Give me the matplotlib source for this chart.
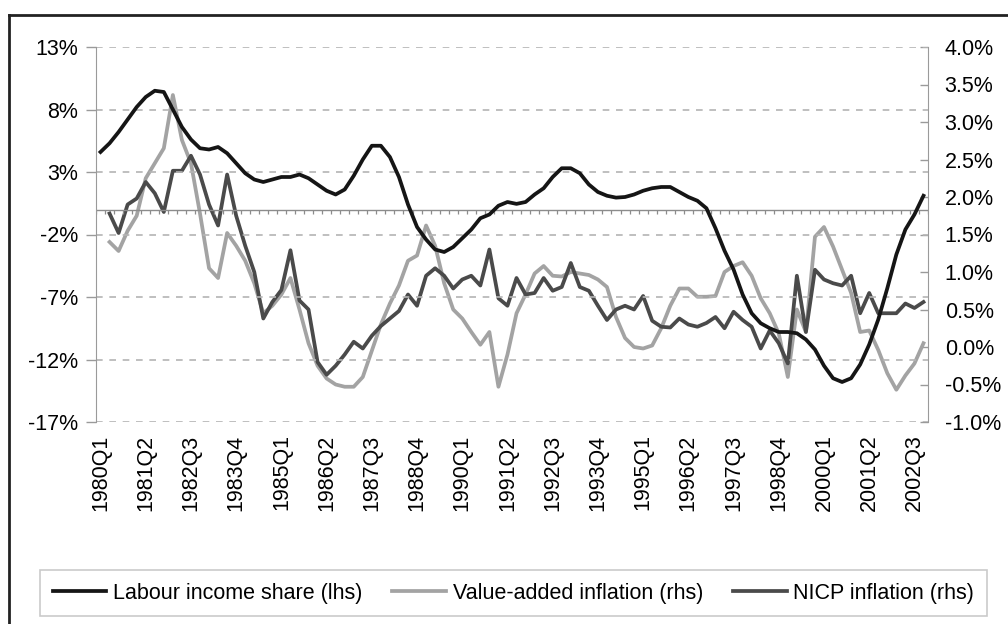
#labour_share_inflation.py

import numpy as np
import matplotlib.pyplot as plt
from matplotlib.lines import Line2D

plt.rcParams['font.family'] = ['Liberation Sans', 'DejaVu Sans']

nan = np.nan

quarters = [f"{1980 + i // 4}Q{i % 4 + 1}" for i in range(92)]

labour_share = [
    4.6, 5.3, 6.2, 7.2, 8.2, 9.0, 9.5, 9.4, 8.0, 6.6,
    5.6, 4.9, 4.8, 5.0, 4.5, 3.7, 2.9, 2.4, 2.2, 2.4,
    2.6, 2.6, 2.8, 2.5, 2.0, 1.5, 1.2, 1.6, 2.7, 4.0,
    5.1, 5.1, 4.2, 2.6, 0.4, -1.4, -2.4, -3.2, -3.4, -3.0,
    -2.3, -1.6, -0.7, -0.4, 0.3, 0.6, 0.45, 0.6, 1.2, 1.7,
    2.6, 3.3, 3.3, 2.9, 2.0, 1.4, 1.1, 0.95, 1.0, 1.2,
    1.5, 1.7, 1.8, 1.8, 1.4, 1.0, 0.7, 0.1, -1.5, -3.3,
    -4.8, -6.8, -8.3, -9.1, -9.5, -9.8, -9.8, -9.9, -10.4, -11.2,
    -12.5, -13.5, -13.8, -13.5, -12.4, -10.8, -8.8, -6.3, -3.6, -1.6,
    -0.4, 1.1]

va_inflation = [
    nan, 1.40, 1.28, 1.55, 1.75, 2.25, 2.45, 2.65, 3.36, 2.76,
    2.45, 1.78, 1.05, 0.92, 1.52, 1.35, 1.15, 0.85, 0.45, 0.55,
    0.7, 0.92, 0.5, 0.05, -0.25, -0.42, -0.5, -0.53, -0.53, -0.4,
    -0.05, 0.3, 0.58, 0.82, 1.15, 1.22, 1.62, 1.35, 0.85, 0.5,
    0.38, 0.2, 0.03, 0.2, -0.53, -0.1, 0.45, 0.7, 0.98, 1.08,
    0.95, 0.94, 1.0, 0.98, 0.96, 0.9, 0.8, 0.4, 0.12, 0.0,
    -0.02, 0.02, 0.25, 0.55, 0.78, 0.78, 0.67, 0.67, 0.68, 1.0,
    1.08, 1.13, 0.95, 0.65, 0.45, 0.18, -0.4, 0.5, 0.2, 1.47,
    1.6, 1.34, 1.03, 0.72, 0.2, 0.22, -0.04, -0.35, -0.57, -0.38,
    -0.22, 0.05]

nicp_inflation = [
    nan, 1.78, 1.52, 1.9, 1.98, 2.2, 2.05, 1.8, 2.35, 2.35,
    2.55, 2.3, 1.9, 1.62, 2.3, 1.75, 1.35, 1.0, 0.38, 0.6,
    0.76, 1.29, 0.62, 0.5, -0.2, -0.37, -0.25, -0.1, 0.07, -0.02,
    0.15, 0.28, 0.38, 0.48, 0.7, 0.55, 0.95, 1.05, 0.95, 0.78,
    0.9, 0.95, 0.82, 1.3, 0.65, 0.55, 0.92, 0.7, 0.72, 0.92,
    0.75, 0.8, 1.12, 0.8, 0.75, 0.55, 0.36, 0.5, 0.55, 0.5,
    0.68, 0.35, 0.27, 0.26, 0.38, 0.3, 0.27, 0.32, 0.4, 0.25,
    0.47, 0.36, 0.27, -0.02, 0.22, 0.05, -0.22, 0.95, 0.2, 1.03,
    0.9, 0.85, 0.82, 0.95, 0.45, 0.72, 0.45, 0.45, 0.45, 0.58,
    0.52, 0.6]

lhs_ticks = [13, 8, 3, -2, -7, -12, -17]
rhs_ticks = [4.0, 3.5, 3.0, 2.5, 2.0, 1.5, 1.0, 0.5, 0.0, -0.5, -1.0]

x = np.arange(len(quarters))

fig = plt.figure(figsize=(10.08, 6.24), dpi=100, facecolor='white')
ax1 = fig.add_axes([96 / 1008, 1 - 422 / 624, 832 / 1008, 375 / 624])
ax2 = ax1.twinx()

ax1.set_xlim(-0.5, len(quarters) - 0.5)
ax1.set_ylim(-17, 13)
ax2.set_ylim(-1, 4)

for t in lhs_ticks:
    ax1.axhline(t, color='#b4b4b4', lw=1.2, ls=(0, (4, 4)), zorder=0)

# zero line with small quarter ticks
ax1.axhline(0, color='#8c8c8c', lw=1.0, zorder=1)
ax1.vlines(np.arange(-0.5, len(quarters)), -0.35, 0, color='#8c8c8c', lw=0.9, zorder=1)

l1, = ax1.plot(x, labour_share, color='#151515', lw=2.7, zorder=5)
l2, = ax2.plot(x, va_inflation, color='#a3a3a3', lw=2.7, zorder=3)
l3, = ax2.plot(x, nicp_inflation, color='#4a4a4a', lw=2.7, zorder=4)

ax1.set_yticks(lhs_ticks)
ax1.set_yticklabels([f"{t}%" for t in lhs_ticks], fontsize=15.5)
ax2.set_yticks(rhs_ticks)
ax2.set_yticklabels([f"{t:.1f}%" for t in rhs_ticks], fontsize=15.5)
ax1.tick_params(axis='y', direction='out', length=7, width=1, color='#9a9a9a', pad=6)
ax2.tick_params(axis='y', direction='in', length=6, width=1, color='#9a9a9a', pad=12)

ax1.set_xticks(x[::5])
ax1.set_xticklabels(quarters[::5], rotation=90, fontsize=15.5)
ax1.tick_params(axis='x', length=0, pad=9)

for a in (ax1, ax2):
    a.spines['top'].set_visible(False)
    a.spines['bottom'].set_visible(False)
    a.spines['left'].set_color('#9a9a9a')
    a.spines['right'].set_color('#9a9a9a')
ax1.spines['right'].set_visible(False)
ax2.spines['left'].set_visible(False)

ax1.set_zorder(ax2.get_zorder() + 1)
ax1.patch.set_visible(False)

leg = fig.legend([l1, l2, l3],
                 ['Labour income share (lhs)', 'Value-added inflation (rhs)', 'NICP inflation (rhs)'],
                 loc='center', bbox_to_anchor=(513.5 / 1008, 1 - 593 / 624), ncol=3,
                 fontsize=15.5, handlelength=2.5, handletextpad=0.3, columnspacing=1.4,
                 fancybox=False, edgecolor='#bdbdbd', borderpad=0.6, borderaxespad=0)
leg.get_frame().set_linewidth(1.2)

# outer border of the chart
fig.add_artist(Line2D([9 / 1008, 9 / 1008], [0, 1 - 15 / 624], transform=fig.transFigure,
                      color='#222222', lw=2))
fig.add_artist(Line2D([9 / 1008, 1], [1 - 15 / 624, 1 - 15 / 624], transform=fig.transFigure,
                      color='#222222', lw=2))

fig.savefig('out.png', dpi=100)
